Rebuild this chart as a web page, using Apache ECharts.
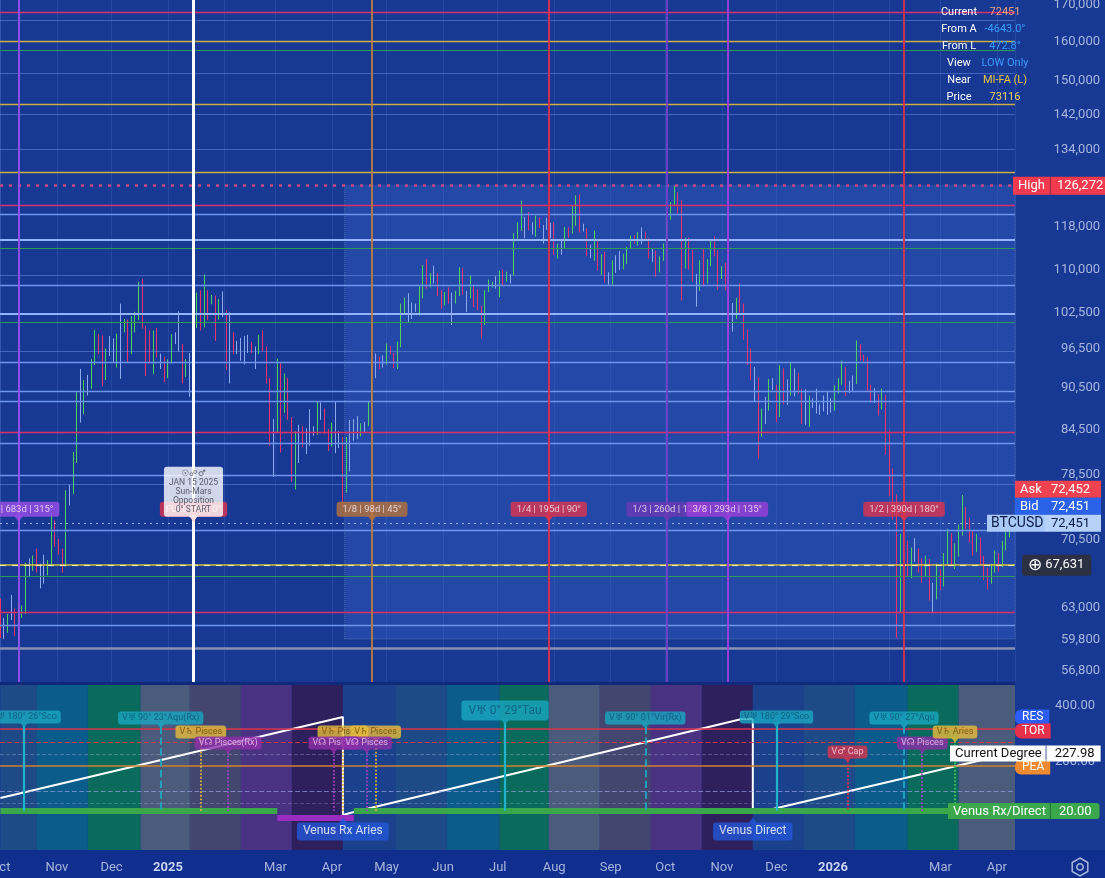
<!DOCTYPE html>
<html>
<head>
<meta charset="utf-8">
<title>BTCUSD</title>
<script src="https://cdn.jsdelivr.net/npm/echarts@6.0.0/dist/echarts.min.js"></script>
<style>
html, body { margin: 0; padding: 0; background: #173994; }
#chart { width: 1105px; height: 878px; }
</style>
</head>
<body>
<div id="chart"></div>
<script>
const DAY = 86400000;
function utc(s) { const p = s.split('-').map(Number); return Date.UTC(p[0], p[1] - 1, p[2]); }

// ---- price candles: one per two days from candleStart, [close, low, high] in thousands USD
const candleStart = '2024-10-01';
const candleStepDays = 2;
const firstOpen = 63.3;
const candles = [
  // Oct 2024
  [60.8,60.0,64.0],[60.6,59.9,62.0],[62.1,60.5,62.4],[62.2,61.8,64.4],[60.6,60.2,63.0],[62.4,58.9,63.4],[62.8,62.0,63.3],[67.0,62.4,67.9],
  [67.4,66.3,68.4],[68.4,67.0,68.7],[67.4,66.8,69.5],[66.7,65.1,67.8],[66.6,65.6,68.8],[67.9,66.5,68.2],[72.7,67.5,73.6],[70.2,69.7,72.8],
  // Nov
  [69.5,68.8,70.6],[67.8,66.8,69.4],[75.9,67.5,76.5],[76.5,74.6,77.2],[80.5,76.0,81.5],[88.7,80.0,89.9],[87.3,85.5,93.4],[90.6,86.7,91.7],
  [90.5,89.4,92.5],[94.3,90.4,94.9],[98.9,94.0,99.6],[97.7,95.7,98.9],[91.9,90.8,98.7],[95.6,91.7,96.6],[96.4,95.4,98.6],
  // Dec
  [95.9,94.5,98.2],[98.8,93.6,99.0],[99.9,91.9,104.0],[101.2,99.2,101.4],[96.6,94.3,101.3],[100.0,95.7,101.9],[101.4,99.2,102.6],[106.1,101.2,107.8],
  [100.2,99.8,108.3],[97.8,92.3,98.0],[95.1,94.2,99.5],[98.6,92.6,99.5],[95.8,95.2,99.9],[95.3,93.4,95.7],[92.8,91.4,95.0],
  // Jan 2025
  [94.4,92.0,94.9],[98.1,94.2,98.9],[98.3,97.3,99.2],[96.9,96.1,102.7],[92.5,91.2,97.3],[94.6,92.2,94.9],[94.5,89.2,95.9],[100.5,96.5,100.7],
  [104.4,99.9,105.9],[101.1,99.5,106.3],[106.1,100.0,109.1],[104.0,101.2,106.3],[104.7,103.9,105.5],[102.1,97.8,105.4],[103.7,101.3,104.8],[102.4,101.7,106.1],
  // Feb
  [97.7,93.3,102.8],[98.1,91.2,102.5],[96.6,95.7,99.2],[96.5,95.7,97.8],[97.4,94.7,98.3],[97.8,94.1,98.6],[97.5,95.9,98.8],
  [96.1,95.9,97.6],[95.8,93.4,96.9],[98.3,95.7,98.8],[96.6,96.1,99.5],[91.4,91.2,96.9],[84.7,82.3,92.0],[84.4,78.2,86.0],
  // Mar
  [94.2,84.2,95.0],[87.2,81.4,94.3],[89.9,86.9,92.7],[86.2,85.9,92.0],[78.6,77.6,86.3],[83.7,76.6,84.3],[84.0,80.0,85.2],[82.6,82.1,85.0],
  [82.7,81.2,84.7],[84.2,82.3,87.4],[84.0,83.7,85.0],[87.5,83.8,88.6],[86.9,85.9,88.4],[84.3,83.9,87.5],[82.3,81.6,84.6],
  // Apr
  [85.2,82.2,85.5],[83.1,81.3,88.5],[83.5,82.0,84.3],[79.2,74.5,81.2],[82.6,76.2,83.5],[84.0,78.9,85.9],[83.7,83.0,86.0],[83.6,83.2,86.4],
  [84.9,83.6,85.4],[85.1,84.2,85.6],[87.5,85.0,88.5],[93.7,87.5,94.6],[94.7,92.0,95.8],[93.8,93.4,95.3],[94.3,93.6,95.5],
  // May
  [96.5,94.1,97.4],[95.9,95.7,97.0],[94.7,93.5,95.9],[96.8,93.4,97.7],[102.9,96.8,104.0],[104.6,102.4,105.0],[104.1,100.8,105.8],[103.7,101.4,104.2],
  [103.5,102.6,104.0],[105.6,102.0,107.0],[109.7,104.9,110.8],[107.3,106.6,111.9],[108.9,106.8,109.4],[109.4,107.5,110.7],[105.6,105.3,108.9],[104.6,103.1,106.3],
  // Jun
  [105.8,103.7,106.0],[104.7,104.0,106.8],[104.3,100.4,105.9],[105.7,104.0,106.2],[110.3,105.3,110.4],[105.7,105.5,110.2],[105.6,102.6,106.2],[106.8,104.9,108.9],
  [104.9,103.4,107.0],[103.3,102.9,106.5],[101.0,98.2,103.6],[106.0,100.4,106.3],[107.1,106.3,108.2],[107.4,106.8,107.8],[107.2,106.6,108.8],
  // Jul
  [108.9,105.1,109.8],[108.0,107.2,110.0],[109.2,107.8,109.6],[108.9,107.5,109.2],[116.0,108.9,116.8],[117.4,115.7,118.9],[119.8,117.2,123.2],[119.0,115.8,120.0],
  [117.9,117.3,120.9],[117.3,116.5,118.9],[119.9,116.1,120.2],[118.4,117.8,119.9],[117.6,114.8,118.4],[118.0,117.4,119.8],[117.8,115.8,118.8],
  // Aug
  [113.3,112.7,118.9],[114.2,112.0,114.8],[114.1,112.7,115.7],[117.5,113.9,118.0],[116.7,115.9,117.9],[118.7,116.7,122.3],[123.3,118.2,124.3],[117.4,116.9,124.5],
  [117.5,117.1,118.6],[112.9,112.4,117.7],[112.5,112.1,114.6],[115.4,111.6,117.3],[110.1,109.8,115.6],[111.3,109.0,112.8],[108.4,107.7,113.3],[108.2,107.3,109.5],
  // Sep
  [111.2,107.3,111.7],[110.7,109.4,112.6],[110.2,109.9,113.4],[112.1,110.0,112.9],[113.9,111.0,114.2],[115.9,113.8,116.3],[115.3,114.8,116.4],[116.8,114.4,117.0],
  [117.1,114.7,117.9],[115.7,115.5,116.8],[112.7,112.0,115.8],[113.3,111.4,113.9],[109.7,108.7,113.5],[112.1,109.5,112.4],[114.0,111.6,114.8],
  // Oct
  [120.5,113.9,120.8],[122.3,119.4,122.9],[124.7,122.3,126.2],[123.3,120.6,124.9],[113.2,104.5,122.4],[115.2,110.2,115.9],[113.0,110.0,115.9],[108.2,107.9,113.6],
  [107.2,103.5,109.2],[110.6,106.2,111.7],[107.6,107.0,113.9],[111.0,107.5,111.9],[114.5,110.6,115.4],[112.9,112.4,116.2],[108.3,106.4,113.6],
  // Nov
  [110.1,108.4,110.6],[106.5,106.3,111.2],[103.9,98.9,104.5],[103.4,99.3,104.1],[104.7,101.4,105.0],[103.0,102.5,107.5],[99.7,98.0,104.0],[95.5,94.0,99.0],
  [92.2,91.7,96.6],[91.5,88.6,93.7],[85.1,80.6,92.1],[86.8,83.5,87.5],[87.3,85.3,89.2],[91.3,87.2,91.9],[90.9,90.2,92.0],
  // Dec
  [86.3,85.6,91.0],[93.5,86.3,94.0],[89.4,88.1,93.2],[89.5,88.0,91.8],[92.7,89.4,94.5],[92.5,89.3,93.5],[90.3,89.7,92.8],[86.4,85.3,90.4],
  [86.1,85.2,90.3],[88.1,84.9,89.4],[88.5,87.6,89.0],[87.6,86.8,90.4],[87.6,86.6,88.1],[87.8,87.1,89.4],[87.2,86.6,90.0],[87.5,86.9,89.0],
  // Jan 2026
  [89.9,87.2,90.9],[91.5,89.7,92.0],[93.7,91.0,94.7],[91.0,89.3,93.1],[90.5,89.8,91.6],[91.2,90.0,92.4],[96.9,91.1,97.9],[95.5,94.7,97.3],
  [95.1,94.5,95.6],[91.0,89.9,95.2],[89.5,88.4,90.8],[89.2,88.3,90.5],[88.2,86.5,89.6],[89.2,87.4,90.4],[84.0,81.1,89.5],
  // Feb
  [78.6,75.8,84.4],[75.5,72.9,79.3],[62.9,60.0,76.0],[69.5,62.5,71.2],[70.2,68.3,71.6],[67.4,66.3,70.4],[68.9,66.2,69.6],
  [69.2,68.0,70.7],[67.8,66.8,69.5],[66.9,65.7,68.4],[67.9,66.4,68.7],[64.8,63.8,68.3],[64.3,62.5,65.7],[66.5,63.9,67.8],
  // Mar
  [65.8,64.9,67.2],[68.2,65.3,69.0],[70.9,67.7,71.8],[68.1,67.5,71.3],[69.0,67.2,70.1],[71.5,68.6,72.3],[73.8,71.0,75.9],[72.6,71.8,74.4],
  [71.0,70.2,73.1],[69.6,68.7,71.6],[70.4,69.1,71.2],[68.3,67.6,70.8],[66.7,66.0,68.7],[65.9,65.0,67.3],[67.2,65.6,67.8],[68.5,66.8,69.3],
  // Apr
  [67.7,66.9,69.0],[69.8,67.4,70.4],[71.3,69.3,72.0],[72.4,70.8,73.1]
];

// ---- price axis
const priceTicks = [170000, 160000, 150000, 142000, 134000, 118000, 110000, 102500, 96500, 90500, 84500, 78500, 70500, 63000, 59800, 56800];
const highPrice = 126272;
const askPrice = 72452;
const bidPrice = 72451;
const lastPrice = 72451;
const markPrice = 67631;

// ---- horizontal levels
const redLevels = [168000, 122200, 84100, 62600];
const greenLevels = [157900, 114000, 100800, 66400];
const yellowLevels = [160200, 144500, 129100];
const dimBlueLevels = [165900, 152000, 142000, 134000, 109000, 96100, 77200];
const blueLevels = [120400, 107200, 94500, 90000, 88500, 82600, 78400, 71600, 61300];
const brightBlueLevels = [115600, 102300];
const floorLevel = 59000;
const boxStart = '2025-04-08';
const boxLow = 59900;

// ---- cycle verticals
const cycleDates = ['2024-10-11', '2025-01-15', '2025-04-23', '2025-07-29', '2025-10-02', '2025-11-04', '2026-02-09'];
const cycleTags = ['7/8 | 683d | 315°', 'FULL | 0d | 0°', '1/8 | 98d | 45°', '1/4 | 195d | 90°', '1/3 | 260d | 120°', '3/8 | 293d | 135°', '1/2 | 390d | 180°'];
const cycleTagPrice = 73000;
const startCard = '☉☍♂\nJAN 15 2025\nSun-Mars\nOpposition\n0° START';

// ---- lower panel: phase bands, current degree, Venus events
const bandStarts = ['2024-10-01', '2024-10-21', '2024-11-18', '2024-12-17', '2025-01-13', '2025-02-10', '2025-03-10', '2025-04-07', '2025-05-06', '2025-06-03',
  '2025-07-02', '2025-07-29', '2025-08-26', '2025-09-23', '2025-10-21', '2025-11-18', '2025-12-16', '2026-01-13', '2026-02-11', '2026-03-11'];
const bandEnd = '2026-04-10';
const degreeDates = ['2024-10-01', '2025-04-07', '2025-04-07', '2025-04-13', '2025-11-12', '2025-11-18', '2025-11-18', '2025-11-29', '2026-04-08'];
const degreeValues = [67, 360, 5.5, 16.4, 353, 353, 12.7, 27.2, 228];
const currentDegree = 227.98;
const venusLevel = 20;
const venusRxLevel = -5;
const venusDirectSpans = [['2024-10-01', '2025-03-02'], ['2025-04-13', '2026-04-10']];
const venusRxSpan = ['2025-03-02', '2025-04-13'];
const lowerLevels = [317, 269, 227, 183, 90, 48];
const sideTagNames = ['RES', 'TOR', 'PEA'];
const sideTagLevels = [360, 310, 179];
const markerDates = ['2024-10-14', '2024-12-28', '2025-01-19', '2025-02-03', '2025-04-07', '2025-04-25', '2025-04-02', '2025-04-20',
  '2025-07-05', '2025-09-20', '2025-12-01', '2026-01-09', '2026-02-09', '2026-02-19', '2026-03-09'];
const markerTexts = ['V♅ 180° 26°Sco', 'V♅ 90° 23°Aqu(Rx)', 'V♄ Pisces', 'V☊ Pisces(Rx)', 'V♄ Pisces', 'V♄ Pisces', 'V☊ Pisces', 'V☊ Pisces',
  'V♅ 0° 29°Tau', 'V♅ 90° 01°Vir(Rx)', 'V♅ 180° 29°Sco', 'V♂ Cap', 'V♅ 90° 27°Aqu', 'V☊ Pisces', 'V♄ Aries'];
const markerValues = [331, 328, 277, 237, 277, 277, 237, 237, 342, 328, 331, 205, 328, 237, 277];
const markerKinds = ['uSolid', 'uDash', 'sat', 'node', 'sat', 'sat', 'node', 'node', 'uBig', 'uDash', 'uSolid', 'mars', 'uDash', 'node', 'satAries'];
const venusEventDates = ['2025-04-07', '2025-11-18'];
const venusEventTexts = ['Venus Rx Aries', 'Venus Direct'];
const venusEventValue = -14;

const monthNames = ['Jan', 'Feb', 'Mar', 'Apr', 'May', 'Jun', 'Jul', 'Aug', 'Sep', 'Oct', 'Nov', 'Dec'];

// ---- styles
const FONT = 'Roboto, "DejaVu Sans", sans-serif';
const axisText = '#a8b6df';
const upColor = '#4fd25a';
const downColor = '#f2306a';
const flatColor = '#8ea9ee';
const clear = 'rgba(0,0,0,0)';
const cycleColors = ['#9b4ee8', '#e0344e', '#b8733a', '#e0344e', '#6c3ab6', '#9c3fd8', '#e0344e'];
const cycleLineColors = ['#9b50f0', '#ffffff', '#c07a3a', '#e0304a', '#7a40c8', '#a040e0', '#e0304a'];
const bandPalette = ['#1e4b88', '#0b5b8b', '#0a6b5d', '#4a5b7c', '#43476f', '#4a3283', '#2e1f5d', '#1b408c'];
const kindStyle = {
  uSolid: { bg: '#19a8c2', fg: '#0d5876', line: '#21b3c9', type: 'solid', fs: 9 },
  uDash: { bg: '#19a8c2', fg: '#0d5876', line: '#1fa8c0', type: 'dashed', fs: 9 },
  uBig: { bg: '#19a8c2', fg: '#0d5876', line: '#21b3c9', type: 'solid', fs: 12 },
  sat: { bg: '#e6bd3c', fg: '#6b4a0a', line: '#d9b040', type: 'dotted', fs: 9 },
  satAries: { bg: '#e6bd3c', fg: '#6b4a0a', line: '#44c060', type: 'dotted', fs: 9 },
  node: { bg: '#8e2eaa', fg: '#ecd0f4', line: '#a040c0', type: 'dotted', fs: 9 },
  mars: { bg: '#d8344c', fg: '#ffe0e4', line: '#d8344c', type: 'dotted', fs: 9 }
};
const lowerLevelStyles = [
  { color: '#d8344a', width: 1.5, type: 'solid' },
  { color: '#d8344a', width: 1.2, type: 'dashed' },
  { color: 'rgba(200,205,230,0.3)', width: 1, type: 'dashed' },
  { color: '#d0802c', width: 1.5, type: 'solid' },
  { color: 'rgba(160,165,235,0.65)', width: 1.2, type: 'dashed' },
  { color: 'rgba(200,205,230,0.25)', width: 1, type: 'dashed' }
];
const sideTagColors = ['#2d5cf2', '#e8304a', '#f08a30'];

const xMin = utc('2024-10-01') - 5 * 3600000;
const xMax = utc('2026-04-10') + 22 * 3600000;
const fmt = v => String(v).replace(/\B(?=(\d{3})+(?!\d))/g, ',');

// ---- build candle items
const candleData = [];
let prevClose = firstOpen;
candles.forEach((c, i) => {
  const o = prevClose, cl = c[0];
  const lo = Math.min(c[1], o, cl), hi = Math.max(c[2], o, cl);
  const item = { value: [utc(candleStart) + i * candleStepDays * DAY, o * 1000, cl * 1000, lo * 1000, hi * 1000] };
  if (Math.abs(cl - o) < (hi - lo) * 0.3) {
    item.itemStyle = { color: flatColor, color0: flatColor, borderColor: flatColor, borderColor0: flatColor };
  }
  candleData.push(item);
  prevClose = cl;
});

// ---- main markLines
const hl = (v, color, width, type) => ({ yAxis: v, lineStyle: { color, width, type: type || 'solid' } });
const mainLines = [];
dimBlueLevels.forEach(v => mainLines.push(hl(v, 'rgba(120,155,240,0.45)', 1)));
blueLevels.forEach(v => mainLines.push(hl(v, '#6e94ee', 1.3)));
brightBlueLevels.forEach(v => mainLines.push(hl(v, '#93b3ff', 1.8)));
redLevels.forEach(v => mainLines.push(hl(v, '#d8306a', 1.3)));
greenLevels.forEach(v => mainLines.push(hl(v, '#2f9a52', 1.2)));
yellowLevels.forEach(v => mainLines.push(hl(v, '#c9b040', 1.3)));
mainLines.push(hl(floorLevel, '#8890b4', 2.5));
mainLines.push(hl(markPrice, '#d8c040', 1.5));
mainLines.push({
  yAxis: markPrice, lineStyle: { color: '#f0e6a0', width: 1.2, type: [6, 6] },
  label: { show: true, position: 'end', distance: 7, formatter: '{i|⊕} {v|' + fmt(markPrice) + '}',
    backgroundColor: '#2b3042', borderRadius: 3, padding: [2, 7, 2, 6],
    rich: { i: { fontSize: 17, color: '#fff', fontFamily: '"DejaVu Sans"' }, v: { fontSize: 13, color: '#fff', fontFamily: FONT } } }
});
mainLines.push({
  yAxis: highPrice, lineStyle: { color: '#c24a7e', width: 2.5, type: [3, 6] },
  label: { show: true, position: 'end', distance: -2, formatter: '{k|High}{s|}{v|' + fmt(highPrice) + '}',
    rich: {
      k: { backgroundColor: '#f23a4e', color: '#fff', fontSize: 13, fontFamily: FONT, padding: [3, 5, 2, 5] },
      s: { backgroundColor: '#b02a3a', width: 1, height: 18 },
      v: { backgroundColor: '#f23a4e', color: '#fff', fontSize: 13, fontFamily: FONT, padding: [3, 6, 2, 6] }
    } }
});
mainLines.push({
  yAxis: lastPrice, lineStyle: { color: 'rgba(200,215,255,0.75)', width: 1.2, type: [2, 4] },
  label: { show: true, position: 'end', distance: -28,
    formatter: '{sp|}{ak|Ask}{av|' + fmt(askPrice) + '}\n{sp|}{bk|Bid}{bv|' + fmt(bidPrice) + '}\n{ck|BTCUSD}{cv|' + fmt(lastPrice) + '}\n{e|}\n{e|}',
    rich: {
      sp: { width: 28, height: 17, lineHeight: 17 },
      ak: { backgroundColor: '#f0434f', color: '#fff', fontSize: 13, fontFamily: FONT, width: 25, height: 17, lineHeight: 17, padding: [0, 0, 0, 5] },
      av: { backgroundColor: '#f0434f', color: '#fff', fontSize: 13, fontFamily: FONT, width: 50, height: 17, lineHeight: 17, padding: [0, 0, 0, 6] },
      bk: { backgroundColor: '#2a62ea', color: '#fff', fontSize: 13, fontFamily: FONT, width: 25, height: 17, lineHeight: 17, padding: [0, 0, 0, 5] },
      bv: { backgroundColor: '#2a62ea', color: '#fff', fontSize: 13, fontFamily: FONT, width: 50, height: 17, lineHeight: 17, padding: [0, 0, 0, 6] },
      ck: { backgroundColor: '#a9c9f8', color: '#0c1c44', fontSize: 14, fontFamily: FONT, width: 54, height: 17, lineHeight: 17, padding: [0, 0, 0, 4] },
      cv: { backgroundColor: '#b7d2fa', color: '#0c1c44', fontSize: 13, fontFamily: FONT, width: 50, height: 17, lineHeight: 17, padding: [0, 0, 0, 6] },
      e: { height: 17, lineHeight: 17 }
    } }
});
cycleDates.forEach((s, i) => {
  mainLines.push({ xAxis: utc(s), lineStyle: { color: cycleLineColors[i], width: i === 1 ? 3 : 1.8, type: 'solid' } });
});

// ---- lower panel markLines / areas
const bandAreas = bandStarts.map((s, i) => [
  { xAxis: utc(s), itemStyle: { color: bandPalette[i % 8] } },
  { xAxis: i + 1 < bandStarts.length ? utc(bandStarts[i + 1]) : utc(bandEnd) + DAY }
]);
const lowerLines = lowerLevels.map((v, i) => ({ yAxis: v, lineStyle: lowerLevelStyles[i] }));
sideTagLevels.forEach((v, i) => lowerLines.push({
  yAxis: v, lineStyle: { color: clear, width: 1, type: 'solid' },
  label: { show: true, position: 'end', distance: 0, formatter: sideTagNames[i], backgroundColor: sideTagColors[i],
    color: '#fff', fontSize: 12, fontFamily: FONT, padding: [2, 6, 1, 7], borderRadius: [6, 0, 0, 6] }
}));
lowerLines.push({
  yAxis: currentDegree, lineStyle: { color: clear, width: 1, type: 'solid' },
  label: { show: true, position: 'end', distance: -65, formatter: '{k|Current Degree}{s|}{v|' + currentDegree.toFixed(2) + '}',
    rich: {
      k: { backgroundColor: '#fff', color: '#111', fontSize: 13, fontFamily: FONT, padding: [2, 4, 1, 5] },
      s: { backgroundColor: '#9aa0b0', width: 1, height: 17 },
      v: { backgroundColor: '#fff', color: '#111', fontSize: 13, fontFamily: FONT, padding: [2, 6, 1, 8] }
    } }
});
lowerLines.push({
  yAxis: venusLevel, lineStyle: { color: clear, width: 1, type: 'solid' },
  label: { show: true, position: 'end', distance: -67, formatter: '{k|Venus Rx/Direct}{s|}{v|' + venusLevel.toFixed(2) + '}',
    rich: {
      k: { backgroundColor: '#3aa84a', color: '#fff', fontSize: 13, fontFamily: FONT, padding: [2, 4, 1, 5] },
      s: { backgroundColor: '#2a7a36', width: 1, height: 17 },
      v: { backgroundColor: '#3aa84a', color: '#fff', fontSize: 13, fontFamily: FONT, padding: [2, 8, 1, 8], borderRadius: [0, 3, 3, 0] }
    } }
});

const venusSegments = venusDirectSpans.map(sp => [
  { coord: [utc(sp[0]), venusLevel], lineStyle: { color: '#3aa84a', width: 6, type: 'solid' } },
  { coord: [utc(sp[1]), venusLevel] }
]);
venusSegments.push([
  { coord: [utc(venusRxSpan[0]), venusRxLevel], lineStyle: { color: '#9a2cc0', width: 6, type: 'solid' } },
  { coord: [utc(venusRxSpan[1]), venusRxLevel] }
]);

const markerItems = markerDates.map((s, i) => {
  const k = kindStyle[markerKinds[i]];
  return {
    value: [utc(s), markerValues[i]],
    itemStyle: { color: k.bg },
    label: { show: true, position: 'top', distance: -1, formatter: markerTexts[i], backgroundColor: k.bg, color: k.fg,
      fontSize: k.fs, fontFamily: FONT, padding: k.fs > 10 ? [4, 7] : [2, 4], borderRadius: 3 }
  };
});
const markerLines = markerDates.map((s, i) => {
  const k = kindStyle[markerKinds[i]];
  return [
    { coord: [utc(s), markerValues[i] - 3], lineStyle: { color: k.line, width: k.type === 'solid' ? 2.2 : 1.8, type: k.type } },
    { coord: [utc(s), venusLevel] }
  ];
});

const option = {
  backgroundColor: '#173994',
  animation: false,
  useUTC: true,
  textStyle: { fontFamily: FONT },
  graphic: [
    { type: 'rect', z: -1, shape: { x: 0, y: 850, width: 1105, height: 28 }, style: { fill: '#0f2e8d' } },
    { type: 'rect', z: -1, shape: { x: 0, y: 682, width: 1015, height: 3 }, style: { fill: '#10297a' } },
    { type: 'group', x: 1080, y: 867, children: [
      { type: 'polygon', shape: { points: [[0, -9], [7.8, -4.5], [7.8, 4.5], [0, 9], [-7.8, 4.5], [-7.8, -4.5]] }, style: { fill: 'none', stroke: axisText, lineWidth: 1.5 } },
      { type: 'circle', shape: { cx: 0, cy: 0, r: 3.2 }, style: { fill: 'none', stroke: axisText, lineWidth: 1.5 } }
    ] }
  ],
  grid: [
    { left: 0, right: 90, top: 0, bottom: 196, outerBoundsMode: 'none' },
    { left: 0, right: 90, top: 685, bottom: 28, outerBoundsMode: 'none' }
  ],
  xAxis: [
    { type: 'time', gridIndex: 0, min: xMin, max: xMax, splitNumber: 19, minInterval: 28 * DAY,
      axisLabel: { show: false }, axisLine: { show: false }, axisTick: { show: false },
      splitLine: { show: true, lineStyle: { color: 'rgba(150,175,255,0.12)', width: 1 } } },
    { type: 'time', gridIndex: 1, min: xMin, max: xMax, splitNumber: 19, minInterval: 28 * DAY,
      axisLine: { show: false }, axisTick: { show: false }, splitLine: { show: false },
      axisLabel: {
        color: axisText, fontSize: 13, margin: 11, fontFamily: FONT, hideOverlap: false,
        formatter: v => {
          const dt = new Date(v);
          if (dt.getUTCDate() !== 1) return '';
          const m = dt.getUTCMonth();
          if (m === 0) return '{y|' + dt.getUTCFullYear() + '}';
          if (m === 1) return '';
          return monthNames[m];
        },
        rich: { y: { color: '#c9d3f2', fontWeight: 'bold', fontSize: 13, fontFamily: FONT } }
      } }
  ],
  yAxis: [
    { type: 'log', logBase: 10, gridIndex: 0, position: 'right', min: 55800, max: 171400,
      axisLine: { show: false }, axisTick: { show: false }, splitLine: { show: false },
      axisLabel: { customValues: priceTicks, formatter: v => fmt(Math.round(v)), color: axisText, fontSize: 13, fontFamily: FONT, align: 'right', margin: 85 } },
    { type: 'value', gridIndex: 1, position: 'right', min: -121, max: 476,
      axisLine: { show: false }, axisTick: { show: false }, splitLine: { show: false },
      axisLabel: { customValues: [400, 200], formatter: v => v.toFixed(2), color: axisText, fontSize: 13, fontFamily: FONT, align: 'right', margin: 80 } }
  ],
  series: [
    {
      name: 'BTCUSD', type: 'candlestick', xAxisIndex: 0, yAxisIndex: 0, barWidth: 1.3,
      data: candleData,
      itemStyle: { color: upColor, color0: downColor, borderColor: upColor, borderColor0: downColor, borderWidth: 1 },
      markArea: { silent: true, itemStyle: { color: 'rgba(70,110,220,0.28)', borderColor: 'rgba(170,190,245,0.35)', borderWidth: 1, borderType: 'dotted' },
        data: [[{ xAxis: utc(boxStart), yAxis: boxLow }, { xAxis: xMax, yAxis: highPrice }]] },
      markLine: { silent: true, symbol: ['none', 'none'], animation: false, label: { show: false }, data: mainLines }
    },
    {
      name: 'Cycle', type: 'scatter', xAxisIndex: 0, yAxisIndex: 0, z: 10,
      symbol: 'triangle', symbolRotate: 180, symbolSize: [9, 6],
      data: cycleDates.map((s, i) => ({
        value: [utc(s), cycleTagPrice],
        itemStyle: { color: cycleColors[i] },
        label: { show: true, position: 'top', distance: -1, formatter: cycleTags[i], backgroundColor: cycleColors[i],
          color: '#f6e8f4', fontSize: 9.5, fontFamily: FONT, padding: [3, 6, 2, 6], borderRadius: 3 }
      }))
    },
    {
      name: 'Start', type: 'scatter', xAxisIndex: 0, yAxisIndex: 0, z: 12,
      symbol: 'triangle', symbolRotate: 180, symbolSize: [9, 6],
      data: [{
        value: [utc(cycleDates[1]), cycleTagPrice],
        itemStyle: { color: '#ffffff' },
        label: { show: true, position: 'top', distance: -1, formatter: startCard, backgroundColor: '#ffffff', color: '#3a3a46',
          fontSize: 8.5, lineHeight: 9, fontFamily: FONT, align: 'center', padding: [3, 5, 2, 5], borderRadius: 3 }
      }]
    },
    {
      name: 'Current Degree', type: 'line', xAxisIndex: 1, yAxisIndex: 1, z: 4,
      symbol: 'none', lineStyle: { color: '#ffffff', width: 2 },
      data: degreeDates.map((s, i) => [utc(s), degreeValues[i]]),
      markArea: { silent: true, data: bandAreas },
      markLine: { silent: true, symbol: ['none', 'none'], animation: false, label: { show: false }, data: lowerLines }
    },
    {
      name: 'Venus Rx/Direct', type: 'line', xAxisIndex: 1, yAxisIndex: 1, z: 3, data: [],
      markLine: { silent: true, symbol: ['none', 'none'], animation: false, label: { show: false }, lineStyle: { type: 'solid' }, data: venusSegments }
    },
    {
      name: 'Aspects', type: 'scatter', xAxisIndex: 1, yAxisIndex: 1, z: 10,
      symbol: 'triangle', symbolRotate: 180, symbolSize: [8, 5],
      data: markerItems,
      markLine: { silent: true, symbol: ['none', 'none'], animation: false, label: { show: false }, data: markerLines }
    },
    {
      name: 'Venus Events', type: 'scatter', xAxisIndex: 1, yAxisIndex: 1, z: 11,
      symbol: 'triangle', symbolSize: [9, 6],
      data: venusEventDates.map((s, i) => ({
        value: [utc(s), venusEventValue],
        itemStyle: { color: '#2456d8' },
        label: { show: true, position: 'bottom', distance: -1, formatter: venusEventTexts[i], backgroundColor: '#2456d8',
          color: '#fff', fontSize: 12, fontFamily: FONT, padding: [3, 6, 3, 6], borderRadius: 3 }
      }))
    }
  ]
};

// info panel in the top right corner
const infoRows = [['Current', '72451', '#e8a47c'], ['From A', '-4643.0°', '#3a9cff'], ['From L', '472.8°', '#3a9cff'],
  ['View', 'LOW Only', '#3a9cff'], ['Near', 'MI-FA (L)', '#e8c440'], ['Price', '73116', '#f0d060']];
infoRows.forEach((r, i) => {
  const y = 12 + i * 17;
  option.graphic.push({ type: 'text', z: 100, x: 959, y, style: { text: r[0], fill: '#ffffff', font: '11px ' + FONT, textAlign: 'center', textVerticalAlign: 'middle' } });
  option.graphic.push({ type: 'text', z: 100, x: 1005, y, style: { text: r[1], fill: r[2], font: '11px ' + FONT, textAlign: 'center', textVerticalAlign: 'middle' } });
});

const chart = echarts.init(document.getElementById('chart'));
chart.setOption(option);
window.addEventListener('resize', function () { chart.resize(); });
</script>
</body>
</html>
